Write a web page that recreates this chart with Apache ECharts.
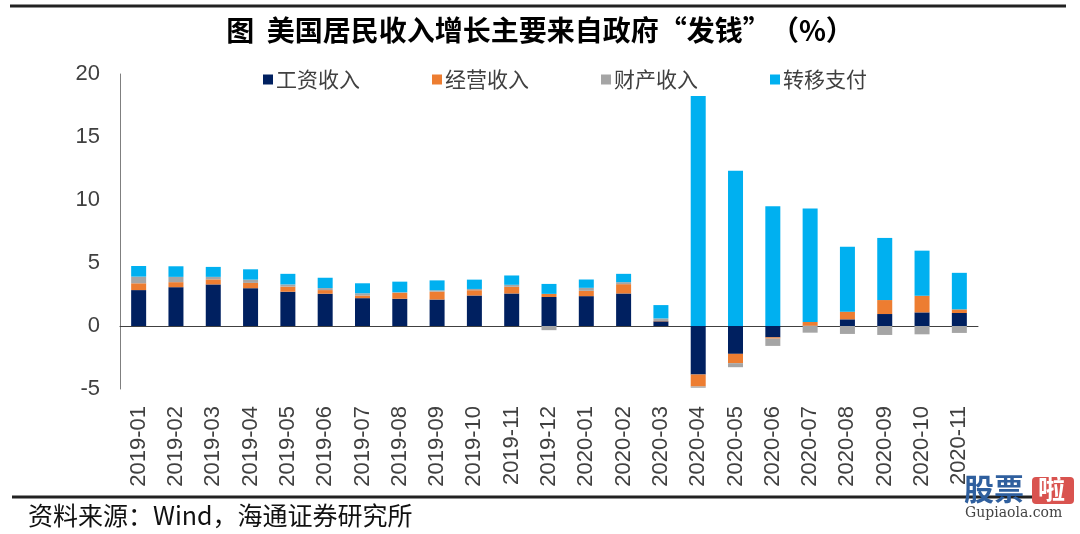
<!DOCTYPE html>
<html>
<head>
<meta charset="utf-8">
<script src="https://cdn.jsdelivr.net/npm/echarts@6/dist/echarts.min.js"></script>
<style>
html,body{margin:0;padding:0;background:#fff;}
#c{width:1080px;height:534px;}
</style>
</head>
<body>
<div id="c"></div>
<script>
var categories = ['2019-01','2019-02','2019-03','2019-04','2019-05','2019-06','2019-07','2019-08','2019-09','2019-10','2019-11','2019-12','2020-01','2020-02','2020-03','2020-04','2020-05','2020-06','2020-07','2020-08','2020-09','2020-10','2020-11'];
var seriesNames = ['工资收入','经营收入','财产收入','转移支付'];
var wage     = [2.85, 3.08, 3.30, 3.00, 2.72, 2.56, 2.21, 2.16, 2.10, 2.42, 2.58, 2.30, 2.37, 2.58, 0.37, -3.85, -2.21, -0.90, 0.02, 0.53, 0.95, 1.08, 1.03];
var business = [0.54, 0.40, 0.40, 0.42, 0.40, 0.29, 0.21, 0.47, 0.63, 0.42, 0.53, 0.25, 0.42, 0.74, 0.03, -0.95, -0.74, -0.10, 0.30, 0.61, 1.11, 1.32, 0.29];
var property = [0.53, 0.42, 0.20, 0.26, 0.18, 0.16, 0.18, 0.05, 0.10, 0.10, 0.16, -0.33, 0.24, 0.16, 0.20, -0.10, -0.32, -0.58, -0.53, -0.63, -0.71, -0.66, -0.55];
var transfer = [0.84, 0.84, 0.79, 0.82, 0.84, 0.82, 0.79, 0.84, 0.79, 0.74, 0.74, 0.79, 0.66, 0.66, 1.06, 18.26, 12.33, 9.51, 9.00, 5.14, 4.93, 3.58, 2.90];
var yTicks = {min: -5, max: 20, interval: 5};
var title = '图  美国居民收入增长主要来自政府“发钱”（%）';
var source = '资料来源：Wind，海通证券研究所';

var colors = ['#002060', '#ED7D31', '#A5A5A5', '#00B0F0'];
var valueSets = [wage, business, property, transfer];

var chart = echarts.init(document.getElementById('c'));
var series = seriesNames.map(function (n, i) {
  return {
    name: n, type: 'bar', stack: 'total', xAxisIndex: 0,
    barWidth: 15, data: valueSets[i],
    itemStyle: {color: colors[i]}
  };
});

chart.setOption({
  animation: false,
  color: colors,
  title: {
    text: title, left: 'center', top: 11,
    textStyle: {fontFamily: '"Noto Sans CJK SC"', fontSize: 28, fontWeight: 'bold', color: '#000'}
  },
  legend: {
    data: seriesNames, left: 258, top: 64,
    itemWidth: 10, itemHeight: 10, itemGap: 72, icon: 'rect',
    textStyle: {fontFamily: '"Noto Sans CJK SC"', fontSize: 21, color: '#404040', padding: [0,0,0,-2]}
  },
  grid: {left: 120, right: 102, top: 74, bottom: 145},
  xAxis: [{
    type: 'category', data: categories,
    axisLine: {onZero: true, lineStyle: {color: '#404040', width: 1}},
    axisTick: {show: false}, axisLabel: {show: false}
  }, {
    type: 'category', data: categories, position: 'bottom',
    axisLine: {show: false, onZero: false}, axisTick: {show: false},
    axisLabel: {rotate: 90, margin: 17, fontFamily: 'Liberation Sans, Arial', fontSize: 22, color: '#404040', interval: 0}
  }],
  yAxis: {
    type: 'value', min: yTicks.min, max: yTicks.max, interval: yTicks.interval,
    axisLine: {show: true, lineStyle: {color: '#7f7f7f'}},
    axisTick: {show: false}, splitLine: {show: false},
    axisLabel: {fontFamily: 'Liberation Sans, Arial', fontSize: 22, color: '#404040', margin: 20}
  },
  series: series,
  graphic: [
    {type: 'line', shape: {x1: 10, y1: 6, x2: 1066, y2: 6}, style: {stroke: '#222', lineWidth: 3}},
    {type: 'line', shape: {x1: 12, y1: 497, x2: 1060, y2: 497}, style: {stroke: '#222', lineWidth: 3}},
    {type: 'text', left: 28, top: 503, style: {text: source, fontFamily: '"Noto Sans CJK SC"', fontSize: 25, fill: '#111'}},
    {type: 'text', left: 964, top: 474, style: {text: '股票', fontFamily: '"Noto Sans CJK SC"', fontSize: 30, fontWeight: 'bold', fill: '#2f5f9e'}},
    {type: 'rect', shape: {x: 1032, y: 477, width: 42, height: 27, r: 4}, style: {fill: '#d9534f'}},
    {type: 'text', left: 1038, top: 475, style: {text: '啦', fontFamily: '"Noto Sans CJK SC"', fontSize: 27, fontWeight: 'bold', fill: '#fff'}},
    {type: 'text', left: 965, top: 506, style: {text: 'Gupiaola.com', fontFamily: 'DejaVu Serif', fontSize: 14, fill: '#444'}}
  ]
});
</script>
</body>
</html>
